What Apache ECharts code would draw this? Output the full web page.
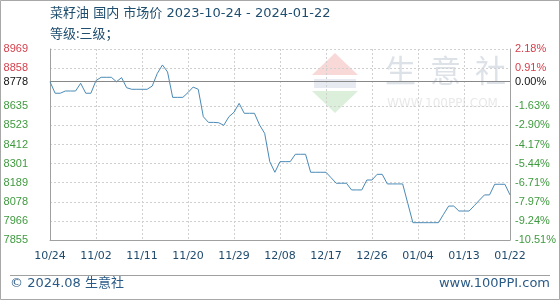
<!DOCTYPE html>
<html>
<head>
<meta charset="utf-8">
<script src="https://cdn.jsdelivr.net/npm/echarts@6/dist/echarts.min.js"></script>
<style>html,body{margin:0;padding:0;background:#fff}#c{width:560px;height:300px}</style>
</head>
<body>
<div id="c"></div>
<script>
var titleText = '菜籽油 国内 市场价 2023-10-24 - 2024-01-22';
var subTitleText = '等级:三级；';
var categories = [
 '10/24','10/25','10/26','10/27','10/28','10/29','10/30','10/31',
 '11/01','11/02','11/03','11/04','11/05','11/06','11/07','11/08','11/09','11/10',
 '11/11','11/12','11/13','11/14','11/15','11/16','11/17','11/18','11/19','11/20',
 '11/21','11/22','11/23','11/24','11/25','11/26','11/27','11/28','11/29','11/30',
 '12/01','12/02','12/03','12/04','12/05','12/06','12/07','12/08','12/09','12/10',
 '12/11','12/12','12/13','12/14','12/15','12/16','12/17','12/18','12/19','12/20',
 '12/21','12/22','12/23','12/24','12/25','12/26','12/27','12/28','12/29','12/30','12/31',
 '01/01','01/02','01/03','01/04','01/05','01/06','01/07','01/08','01/09','01/10',
 '01/11','01/12','01/13','01/14','01/15','01/16','01/17','01/18','01/19','01/20',
 '01/21','01/22'
];
var prices = [
 8778,8711,8711,8724,8724,8724,8769,8711,8711,8785,
 8804,8804,8804,8778,8802,8743,8734,8734,8734,8734,
 8753,8827,8876,8835,8687,8687,8687,8715,8747,8734,
 8574,8541,8541,8539,8524,8574,8600,8652,8594,8594,
 8594,8526,8477,8312,8250,8312,8312,8312,8355,8355,
 8355,8250,8250,8250,8250,8218,8186,8186,8186,8147,
 8147,8147,8205,8205,8238,8238,8182,8182,8182,8182,
 8069,7956,7956,7956,7956,7956,7956,8005,8053,8053,
 8024,8024,8024,8055,8087,8118,8118,8180,8180,8180,
 8118
];
var baseValue = 8778;
var tickValues = [7855,7966.4,8077.8,8189.2,8300.6,8412,8523.4,8634.8,8778,8857.6,8969];
var leftTickLabels = ['7855','7966','8078','8189','8301','8412','8523','8635','8778','8858','8969'];
var rightTickLabels = ['-10.51%','-9.24%','-7.97%','-6.71%','-5.44%','-4.17%','-2.90%','-1.63%','0.00%','0.91%','2.18%'];
var footerLeft = '© 2024.08 生意社';
var footerRight = 'www.100PPI.com';
var watermarkChars = ['生','意','社'];
var watermarkUrl = 'WWW.100PPI.COM';

function labelIndex(v){
  var best = 0, d = Infinity;
  for (var i = 0; i < tickValues.length; i++) {
    var dd = Math.abs(tickValues[i] - v);
    if (dd < d) { d = dd; best = i; }
  }
  return best;
}
function labelColor(v){
  if (Math.abs(v - baseValue) < 1) return '#111111';
  return v > baseValue ? '#d4404c' : '#3f9a3f';
}

var chart = echarts.init(document.getElementById('c'), null, {renderer: 'canvas'});
var font = '"Liberation Sans", Arial, sans-serif';
var txtFont = '"DejaVu Sans", "Noto Sans CJK SC", sans-serif';
var graphics = [
  {type: 'rect', silent: true, z: -10, shape: {x: 0.5, y: 0.5, width: 559, height: 299}, style: {fill: 'none', stroke: '#a8a8a8', lineWidth: 1}},
  {type: 'polygon', silent: true, z: -5, shape: {points: [[335, 53], [358, 75], [312, 75]]}, style: {fill: 'rgba(232,120,110,0.28)'}},
  {type: 'rect', silent: true, z: -5, shape: {x: 314, y: 79, width: 42, height: 9}, style: {fill: 'rgba(120,140,180,0.18)'}},
  {type: 'polygon', silent: true, z: -5, shape: {points: [[312, 91], [358, 91], [335, 113]]}, style: {fill: 'rgba(110,190,110,0.25)'}},
  {type: 'text', silent: true, z: -5, left: 387, top: 98, style: {text: watermarkUrl, font: '12px "DejaVu Sans", sans-serif', fill: 'rgba(190,190,190,0.35)', letterSpacing: 0}},
  {type: 'text', left: 50, top: 7, style: {text: titleText, font: '13px ' + txtFont, fill: '#1f4e6e'}},
  {type: 'text', left: 50, top: 27, style: {text: subTitleText, font: '13px "Noto Sans CJK SC", sans-serif', fill: '#1f4e6e'}},
  {type: 'line', silent: true, shape: {x1: 10, y1: 275.5, x2: 550, y2: 275.5}, style: {stroke: '#a0a0a0', lineWidth: 1}},
  {type: 'text', left: 10, top: 277, style: {text: footerLeft, font: '13px ' + txtFont, fill: '#2a5a86'}},
  {type: 'text', right: 10, top: 277, style: {text: footerRight, font: '13px "DejaVu Sans", sans-serif', fill: '#2a5a86'}}
];
for (var i = 0; i < watermarkChars.length; i++) {
  graphics.push({type: 'text', silent: true, z: -5, left: 385 + i * 45, top: 55,
    style: {text: watermarkChars[i], font: '31px "Noto Sans CJK SC", sans-serif', fill: 'rgba(180,188,205,0.45)'}});
}
chart.setOption({
  animation: false,
  backgroundColor: '#ffffff',
  grid: {left: 50, right: 50, top: 49, bottom: 60, containLabel: false},
  xAxis: {
    type: 'category',
    data: categories,
    boundaryGap: false,
    axisLine: {show: true, lineStyle: {color: '#a0a0a0', width: 1}},
    axisTick: {show: false},
    axisLabel: {interval: 8, color: '#1f4a6c', fontSize: 11, fontFamily: '"DejaVu Sans", sans-serif', margin: 11, showMaxLabel: true},
    splitLine: {show: true, interval: 8, lineStyle: {color: '#d0d0d0', type: [2, 2], width: 1}}
  },
  yAxis: [{
    type: 'value',
    min: 7855, max: 8969,
    position: 'left',
    axisLine: {show: true, lineStyle: {color: '#a0a0a0', width: 1}},
    axisTick: {show: false, customValues: tickValues},
    axisLabel: {
      customValues: tickValues,
      fontSize: 11, fontFamily: font, margin: 22,
      formatter: function(v){ return leftTickLabels[labelIndex(v)]; },
      color: function(v){ return labelColor(v); }
    },
    splitLine: {show: true, lineStyle: {color: '#d0d0d0', type: [2, 2], width: 1}}
  }, {
    type: 'value',
    min: 7855, max: 8969,
    position: 'right',
    axisLine: {show: true, lineStyle: {color: '#a0a0a0', width: 1}},
    axisTick: {show: false, customValues: tickValues},
    axisLabel: {
      customValues: tickValues,
      fontSize: 11, fontFamily: font, margin: 5,
      formatter: function(v){ return rightTickLabels[labelIndex(v)]; },
      color: function(v){ return labelColor(v); }
    },
    splitLine: {show: false}
  }],
  graphic: graphics,
  series: [{
    type: 'line',
    data: prices,
    yAxisIndex: 0,
    showSymbol: false,
    symbol: 'none',
    lineStyle: {color: '#4a8ab6', width: 1},
    markLine: {
      silent: true, symbol: 'none', label: {show: false},
      lineStyle: {color: '#888888', type: 'solid', width: 1},
      data: [{yAxis: baseValue}]
    }
  }]
});
</script>
</body>
</html>
